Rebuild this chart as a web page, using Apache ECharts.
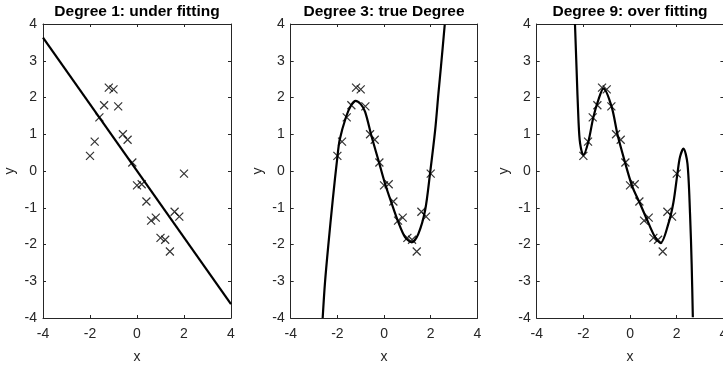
<!DOCTYPE html>
<html>
<head>
<meta charset="utf-8">
<script src="https://cdn.jsdelivr.net/npm/echarts@6/dist/echarts.min.js"></script>
<style>
  html, body { margin: 0; padding: 0; background: #fff; }
  #chart { width: 723px; height: 368px; }
</style>
</head>
<body>
<div id="chart"></div>
<script>
// sample points (same in all three panels)
const xPts = [-2, -1.8, -1.6, -1.4, -1.2, -1, -0.8, -0.6, -0.4, -0.2, 0, 0.2, 0.4, 0.6, 0.8, 1, 1.2, 1.4, 1.6, 1.8, 2]
const yPts = [0.41, 0.80, 1.46, 1.79, 2.27, 2.22, 1.76, 1.00, 0.85, 0.23, -0.39, -0.36, -0.83, -1.35, -1.27, -1.82, -1.87, -2.19, -1.11, -1.24, -0.07]

// fitted curves
const fit1X = [-4, 4]
const fit1Y = [3.63, -3.62]

const fit3X = [-2.63, -2.53, -2.39, -2.2, -2.0, -1.9, -1.63, -1.41, -1.22, -1.0, -0.81, -0.53, -0.24, 0.04, 0.33, 0.61, 0.90, 1.19, 1.47, 1.76, 1.97, 2.19, 2.33, 2.44, 2.60]
const fit3Y = [-4.0, -3.03, -2.03, -0.8, 0.38, 0.85, 1.47, 1.79, 1.91, 1.82, 1.61, 0.93, 0.29, -0.34, -0.89, -1.39, -1.80, -1.94, -1.71, -1.07, -0.07, 1.11, 2.11, 2.85, 3.98]

const fit9X = [-2.36, -2.29, -2.21, -2.14, -2.0, -1.79, -1.57, -1.36, -1.14, -0.79, -0.53, -0.24, 0.09, 0.43, 0.71, 1.07, 1.31, 1.64, 1.86, 2.03, 2.14, 2.29, 2.46, 2.57, 2.64, 2.69]
const fit9Y = [4.0, 2.75, 1.38, 0.75, 0.43, 0.79, 1.47, 1.93, 2.25, 1.75, 0.97, 0.29, -0.41, -0.89, -1.30, -1.80, -1.96, -1.44, -0.85, -0.07, 0.38, 0.61, 0.20, -1.16, -2.53, -3.98]

const titles = ['Degree 1: under fitting', 'Degree 3: true Degree', 'Degree 9: over fitting']
const axisMin = -4
const axisMax = 4

const pair = (xs, ys) => xs.map((x, i) => [x, ys[i]])
const fits = [pair(fit1X, fit1Y), pair(fit3X, fit3Y), pair(fit9X, fit9Y)]
const points = pair(xPts, yPts)

const axisColor = '#262626'
const font = 'Liberation Sans, Arial, Helvetica, sans-serif'

// plot boxes, last one runs a little past the right edge like the original
const grids = [
  { left: 43, top: 24, width: 188, height: 294, outerBoundsMode: 'none' },
  { left: 290.7, top: 24, width: 186.7, height: 294, outerBoundsMode: 'none' },
  { left: 536.7, top: 24, width: 186.7, height: 294, outerBoundsMode: 'none' }
]

function baseAxis(extra) {
  return Object.assign({
    type: 'value',
    min: axisMin,
    max: axisMax,
    axisLine: { show: true, onZero: false, lineStyle: { color: axisColor, width: 1 } },
    axisTick: { show: true, inside: true, length: 3, lineStyle: { color: axisColor } },
    splitLine: { show: false },
    axisLabel: { show: false }
  }, extra)
}

const xAxis = []
const yAxis = []
const series = []
grids.forEach((g, i) => {
  // bottom x axis with labels
  xAxis.push(baseAxis({
    gridIndex: i, position: 'bottom', interval: 2,
    name: 'x', nameLocation: 'middle', nameGap: 32,
    nameTextStyle: { color: axisColor, fontSize: 14, fontFamily: font },
    axisLabel: { show: true, margin: 9, color: axisColor, fontSize: 14, fontFamily: font }
  }))
  // top x axis: ticks only, carries the panel title
  xAxis.push(baseAxis({
    gridIndex: i, position: 'top', interval: 2,
    name: titles[i], nameLocation: 'middle', nameGap: 4,
    nameTextStyle: { color: '#000', fontSize: 15.5, fontWeight: 'bold', fontFamily: font }
  }))
  // left y axis with labels
  yAxis.push(baseAxis({
    gridIndex: i, position: 'left', interval: 1,
    name: 'y', nameLocation: 'middle', nameGap: 26, nameRotate: 90,
    nameTextStyle: { color: axisColor, fontSize: 14, fontFamily: font },
    axisLabel: { show: true, margin: 6, color: axisColor, fontSize: 14, fontFamily: font }
  }))
  // right y axis: ticks only
  yAxis.push(baseAxis({ gridIndex: i, position: 'right', interval: 1 }))

  series.push({
    type: 'line',
    xAxisIndex: i * 2,
    yAxisIndex: i * 2,
    data: fits[i],
    showSymbol: false,
    smooth: i === 0 ? false : 0.3,
    clip: true,
    lineStyle: { color: '#000', width: 2.2 },
    z: 2
  })
  series.push({
    type: 'scatter',
    xAxisIndex: i * 2,
    yAxisIndex: i * 2,
    data: points,
    symbol: 'path://M0,0L1,1M1,0L0,1',
    symbolSize: 8,
    itemStyle: { color: 'transparent', borderColor: '#000', borderWidth: 1.2 },
    z: 3
  })
})

const chart = echarts.init(document.getElementById('chart'), null, { renderer: 'canvas' })
chart.setOption({
  animation: false,
  backgroundColor: '#fff',
  grid: grids,
  xAxis: xAxis,
  yAxis: yAxis,
  series: series
})
</script>
</body>
</html>
